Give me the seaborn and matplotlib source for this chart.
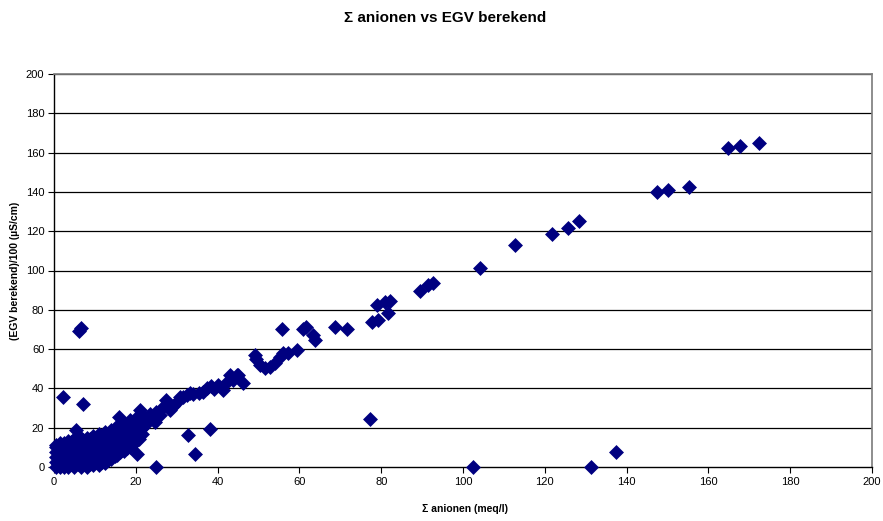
import matplotlib
matplotlib.use("Agg")
import matplotlib.pyplot as plt
import seaborn as sns
import pandas as pd

# Dense cluster near origin (columns of points)
cluster_x = (
    [0.5]*6 + [1.5]*5 + [2.5]*5 + [3.5]*6 + [5.0]*6 + [6.5]*6 + [8.0]*6 +
    [9.5]*6 + [11.0]*6 + [12.5]*6 + [14.0]*6 + [15.5]*6 + [17.0]*6 +
    [18.5]*6 + [20.0]*5 + [21.5]*4
)
cluster_y = (
    [0, 2.5, 5, 7.5, 10, 11] +
    [0, 3, 6, 9, 12] +
    [0, 3, 6, 9, 12] +
    [0, 3, 6, 9, 12, 13] +
    [0, 3, 6, 9, 12, 14] +
    [0, 3, 6, 9, 12, 15] +
    [0, 3, 6, 9, 12, 15] +
    [1, 4, 7, 10, 13, 16] +
    [1, 4, 7, 10, 13, 17] +
    [2, 5, 8, 11, 14, 18] +
    [4, 7, 10, 13, 16, 19] +
    [6, 9, 12, 15, 18, 21] +
    [8, 11, 14, 17, 20, 22] +
    [10, 13, 16, 19, 22, 24] +
    [13, 16, 19, 22, 25] +
    [17, 20, 23, 26]
)

# Second, offset layer of the cluster
cluster2_x = (
    [1.0]*4 + [2.0]*4 + [3.0]*4 + [4.2]*5 + [5.8]*5 + [7.2]*5 + [8.8]*5 +
    [10.2]*5 + [11.8]*5 + [13.2]*5 + [14.8]*5 + [16.2]*5 + [17.8]*5 +
    [19.2]*4 + [20.8]*4
)
cluster2_y = (
    [1.5, 4.5, 7.5, 10.5] +
    [1.5, 4.5, 7.5, 10.5] +
    [1.5, 4.5, 7.5, 10.5] +
    [1.5, 4.5, 7.5, 10.5, 12.5] +
    [1.5, 4.5, 7.5, 10.5, 13] +
    [1.5, 4.5, 7.5, 10.5, 13.5] +
    [1.5, 4.5, 7.5, 10.5, 14] +
    [2.5, 5.5, 8.5, 11.5, 14.5] +
    [2.5, 5.5, 8.5, 11.5, 15] +
    [3.5, 6.5, 9.5, 12.5, 16] +
    [5.5, 8.5, 11.5, 14.5, 17.5] +
    [7.5, 10.5, 13.5, 16.5, 19.5] +
    [9.5, 12.5, 15.5, 18.5, 21] +
    [11.5, 14.5, 17.5, 20.5] +
    [14.5, 17.5, 20.5, 23.5]
)

# Band and scattered points
band_x = [16.0, 21.0, 22.5, 23.0, 23.5, 24.7, 25.0, 25.9, 26.5, 27.5, 28.0, 28.4,
          29.0, 30.0, 30.8, 31.5, 32.5, 33.2, 34.0, 35.5, 36.4, 37.5, 38.5, 39.0,
          40.0, 41.3, 42.0, 43.0, 43.8, 44.7, 45.0, 46.2,
          49.1, 49.5, 50.4, 51.5, 52.8, 54.0, 55.3, 56.0, 57.3, 59.3,
          55.7, 60.8, 61.5, 63.3, 63.8, 68.7, 71.6, 77.7, 79.2, 81.7, 78.9, 80.9,
          82.2, 89.5, 91.4, 92.7, 104.2, 112.7, 121.8, 125.7, 128.4, 147.4, 150.1,
          155.3, 164.8, 167.7, 172.4]
band_y = [25.6, 29.0, 22.0, 25.0, 27.0, 23.0, 28.0, 26.5, 30.0, 34.1, 30.0, 29.0,
          31.0, 33.0, 35.8, 35.5, 36.5, 37.6, 37.0, 37.5, 38.3, 40.0, 41.2, 39.5,
          41.5, 39.0, 43.0, 46.8, 44.3, 46.8, 46.8, 42.7,
          57.0, 55.0, 51.9, 50.5, 51.0, 53.0, 56.1, 58.0, 57.9, 59.5,
          70.1, 70.1, 71.0, 67.0, 64.6, 71.4, 70.1, 73.9, 74.8, 78.5, 82.4, 84.1,
          84.5, 89.6, 92.6, 93.6, 101.3, 113.0, 118.6, 121.6, 125.2, 140.0, 141.0,
          142.5, 162.3, 163.4, 164.9]

outlier_x = [6.2, 6.6, 2.3, 7.2, 5.4, 20.2, 24.9, 32.8, 34.5, 38.1, 77.3,
             102.4, 131.3, 137.4]
outlier_y = [69.4, 70.6, 35.5, 32.1, 18.8, 6.6, 0.0, 16.3, 6.6, 19.2, 24.3,
             0.0, 0.0, 7.8]

x_vals = cluster_x + cluster2_x + band_x + outlier_x
y_vals = cluster_y + cluster2_y + band_y + outlier_y
df = pd.DataFrame({"x": x_vals, "y": y_vals})

x_ticks = [0, 20, 40, 60, 80, 100, 120, 140, 160, 180, 200]
y_ticks = [0, 20, 40, 60, 80, 100, 120, 140, 160, 180, 200]

sns.set_theme(style="white")
plt.rcParams['font.family'] = ['Liberation Sans', 'DejaVu Sans']
plt.rcParams['text.color'] = 'black'
plt.rcParams['axes.labelcolor'] = 'black'
plt.rcParams['xtick.color'] = 'black'
plt.rcParams['ytick.color'] = 'black'

fig = plt.figure(figsize=(8.83, 5.21), dpi=100)
ax = fig.add_axes([54/883, 1-467/521, (872-54)/883, (467-74)/521])

for yv in y_ticks[1:]:
    ax.axhline(yv, color='black', lw=0.9, zorder=0)

sns.scatterplot(data=df, x="x", y="y", marker="D", s=58, color="#000080",
                linewidth=0, ax=ax, zorder=3, clip_on=False)

ax.set_xlim(0, 200)
ax.set_ylim(0, 200)
ax.set_xticks(x_ticks)
ax.set_yticks(y_ticks)
ax.tick_params(axis='both', direction='out', length=4, width=0.8, colors='black',
               labelsize=8, pad=3, bottom=True, left=True)
for side in ['left', 'bottom']:
    ax.spines[side].set_color('black')
    ax.spines[side].set_linewidth(1.0)
ax.spines['right'].set_color('#808080')
ax.spines['top'].set_color('#808080')

ax.set_xlabel("Σ anionen (meq/l)", fontsize=7.5, fontweight='bold', color='black')
ax.xaxis.set_label_coords((465-54)/818, -0.095)
ax.set_ylabel("(EGV berekend)/100 (µS/cm)", fontsize=7.5, fontweight='bold', color='black')
ax.yaxis.set_label_coords(-0.041, 0.5)

fig.text(0.5 + (445-441.5)/883, 1-18/521, "Σ anionen vs EGV berekend",
         ha='center', va='center', fontsize=11, fontweight='bold', color='black')

fig.savefig("out.png", dpi=100)
